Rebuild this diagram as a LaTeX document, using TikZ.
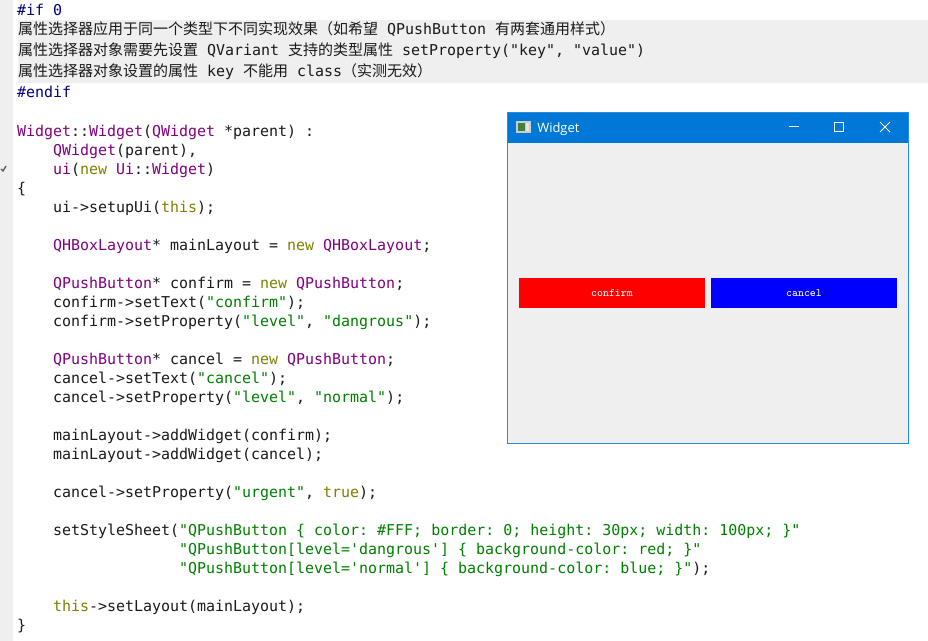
\documentclass[tikz,border=0pt]{standalone}
\usepackage{fontspec}
\setmonofont{DejaVu Sans Mono}
\newfontfamily\cjkfont{Noto Sans CJK SC}
\newfontfamily\uifont{Open Sans}
\newfontfamily\btnfont{Latin Modern Mono}
\definecolor{kw}{HTML}{808000}
\definecolor{ty}{HTML}{800080}
\definecolor{st}{HTML}{008000}
\definecolor{pp}{HTML}{000080}
\definecolor{tb}{HTML}{0078D7}
\definecolor{bg}{HTML}{EFEFEF}
\definecolor{tx}{HTML}{1A1A1A}
\newcommand{\K}[1]{\textcolor{kw}{#1}}
\newcommand{\T}[1]{\textcolor{ty}{#1}}
\newcommand{\St}[1]{\textcolor{st}{#1}}
\newcommand{\Cn}[1]{{\cjkfont\fontsize{11.25pt}{13pt}\selectfont #1}}
\tikzset{
  codeline/.style={anchor=base west,inner sep=0pt,outer sep=0pt,text=tx,font=\fontsize{11.22pt}{13pt}\selectfont\ttfamily},
  btnlabel/.style={text=white,inner sep=0pt,font=\fontsize{8.4pt}{10pt}\selectfont\btnfont},
  ctl/.style={draw=white,line width=0.75pt}
}
\begin{document}
\begin{tikzpicture}[x=0.75pt,y=-0.75pt]
\useasboundingbox (0,0) rectangle (928,641);
\fill[white] (0,0) rectangle (928,641);
\fill[bg] (0,0) rectangle (13,641);
\fill[bg] (18,20) rectangle (928,83);
\node[codeline] (c1) at (17,16) {\textcolor{pp}{\#if 0}};
\node[codeline] (c2) at (18,35) {\Cn{属性选择器应用于同一个类型下不同实现效果（如希望} QPushButton \Cn{有两套通用样式）}};
\node[codeline] (c3) at (18,56) {\Cn{属性选择器对象需要先设置} QVariant \Cn{支持的类型属性} setProperty("key", "value")};
\node[codeline] (c4) at (18,77) {\Cn{属性选择器对象设置的属性} key \Cn{不能用} class\Cn{（实测无效）}};
\node[codeline] (c5) at (17,98) {\textcolor{pp}{\#endif}};
\node[codeline] (c6) at (17,137) {\T{Widget}::\T{Widget}(\T{QWidget} *parent) :};
\node[codeline] (c7) at (53,156) {\T{QWidget}(parent),};
\node[codeline] (c8) at (53,175) {\T{ui}(\K{new} \T{Ui}::\T{Widget})};
\node[codeline] (c9) at (17,194) {\{};
\node[codeline] (c10) at (53,213) {ui->setupUi(\K{this});};
\node[codeline] (c11) at (53,251) {\T{QHBoxLayout}* mainLayout = \K{new} \T{QHBoxLayout};};
\node[codeline] (c12) at (53,289) {\T{QPushButton}* confirm = \K{new} \T{QPushButton};};
\node[codeline] (c13) at (53,308) {confirm->setText(\St{"confirm"});};
\node[codeline] (c14) at (53,327) {confirm->setProperty(\St{"level"}, \St{"dangrous"});};
\node[codeline] (c15) at (53,365) {\T{QPushButton}* cancel = \K{new} \T{QPushButton};};
\node[codeline] (c16) at (53,384) {cancel->setText(\St{"cancel"});};
\node[codeline] (c17) at (53,402.6) {cancel->setProperty(\St{"level"}, \St{"normal"});};
\node[codeline] (c18) at (53,440.6) {mainLayout->addWidget(confirm);};
\node[codeline] (c19) at (53,459.6) {mainLayout->addWidget(cancel);};
\node[codeline] (c20) at (53,497.4) {cancel->setProperty(\St{"urgent"}, \K{true});};
\node[codeline] (c21) at (53,535.4) {setStyleSheet(\St{"QPushButton \{ color: \#FFF; border: 0; height: 30px; width: 100px; \}"}};
\node[codeline] (c22) at (179,554.4) {\St{"QPushButton[level='dangrous'] \{ background-color: red; \}"}};
\node[codeline] (c23) at (179,573.4) {\St{"QPushButton[level='normal'] \{ background-color: blue; \}"});};
\node[codeline] (c24) at (53,611.4) {\K{this}->setLayout(mainLayout);};
\node[codeline] (c25) at (17,630.4) {\}};
% gutter mark
\draw[line width=1pt,gray!70!black] (1,169) -- (3,171) -- (6,166);
% window
\fill[bg] (507.5,112.5) rectangle (908.5,443.5);
\fill[tb] (507.5,112.5) rectangle (908.5,143);
\draw[tb!85!white,line width=0.75pt] (507.5,112.5) rectangle (908.5,443.5);
% icon
\fill[white!80!black] (516,121) rectangle (531,133);
\fill[black!50!green!50!gray] (518,123) rectangle (525,131);
\fill[white!90!black] (526,123) rectangle (529,131);
\node[anchor=base west,inner sep=0pt,text=white,font=\fontsize{9.7pt}{11pt}\selectfont\uifont] (title) at (537,133) {Widget};
\draw[ctl] (789,127) -- (799,127);
\draw[ctl] (834.5,122.5) rectangle (843.5,131.5);
\draw[ctl] (880,122) -- (890,132) (890,122) -- (880,132);
% buttons
\fill[red] (519,278) rectangle (705,308);
\fill[blue] (711,278) rectangle (897,308);
\node[btnlabel] (confirm) at (612,293.5) {confirm};
\node[btnlabel] (cancel) at (804,293.5) {cancel};
\end{tikzpicture}
\end{document}
